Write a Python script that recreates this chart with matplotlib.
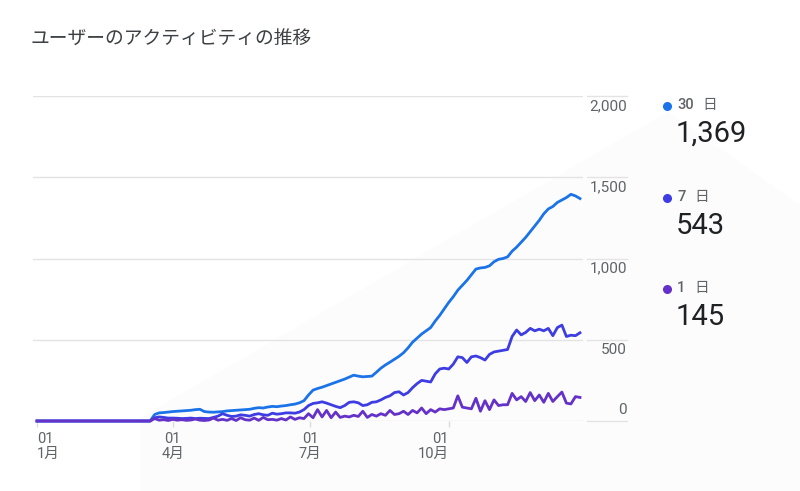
import numpy as np
import matplotlib
matplotlib.use('Agg')
import matplotlib.pyplot as plt
import matplotlib.transforms as mtransforms
from matplotlib.patches import Polygon

# sampled every 3 days, Jan 1 .. Dec 27
days = np.arange(np.datetime64('2023-01-01'), np.datetime64('2023-12-28'), 3)

users_30d = [
    0, 0, 0, 0, 0, 0, 0, 0, 0, 0,
    0, 0, 0, 0, 0, 0, 0, 0, 0, 0,
    0, 0, 0, 0, 0, 0,
    40, 50, 52, 55, 58, 60, 62, 64, 66, 70,
    72, 58, 55, 54, 56, 58, 62, 64, 66, 68,
    70, 72, 78, 82, 80, 86, 90, 88, 92, 95,
    100, 104, 112, 125, 160, 190, 200, 208, 218, 228,
    238, 248, 258, 270, 282, 276, 272, 274, 276, 300,
    325, 345, 362, 380, 398, 420, 450, 485, 510, 535,
    555, 575, 615, 650, 690, 730, 765, 805, 835, 865,
    900, 935, 942, 945, 955, 980, 995, 1000, 1010, 1045,
    1070, 1100, 1130, 1165, 1200, 1235, 1275, 1305, 1320, 1345,
    1360, 1375, 1395, 1385, 1369,
]
users_7d = [
    0, 0, 0, 0, 0, 0, 0, 0, 0, 0,
    0, 0, 0, 0, 0, 0, 0, 0, 0, 0,
    0, 0, 0, 0, 0, 0,
    20, 25, 22, 18, 18, 17, 15, 16, 18, 15,
    17, 16, 15, 22, 30, 45, 35, 28, 30, 38,
    35, 30, 40, 45, 38, 35, 48, 42, 45, 50,
    50, 48, 55, 70, 95, 108, 112, 118, 110, 100,
    90, 82, 95, 115, 118, 112, 95, 100, 115, 118,
    130, 145, 155, 175, 180, 160, 175, 205, 230, 250,
    245, 240, 290, 320, 325, 320, 350, 395, 390, 360,
    395, 400, 390, 375, 410, 425, 430, 435, 440, 520,
    560, 530, 545, 570, 555, 565, 555, 570, 525, 575,
    590, 520, 528, 525, 543,
]
users_1d = [
    0, 0, 0, 0, 0, 0, 0, 0, 0, 0,
    0, 0, 0, 0, 0, 0, 0, 0, 0, 0,
    0, 0, 0, 0, 0, 0,
    15, 5, 8, 3, 10, 5, 8, 4, 6, 12,
    5, 3, 6, 18, 5, 10, 4, 15, 3, 20,
    8, 5, 18, 4, 22, 8, 10, 5, 15, 6,
    25, 10, 20, 15, 45, 20, 70, 25, 65, 20,
    55, 22, 30, 25, 35, 28, 60, 22, 40, 30,
    45, 35, 65, 40, 45, 60, 40, 65, 50, 80,
    45, 70, 55, 75, 70, 75, 80, 155, 85, 80,
    75, 140, 60, 125, 70, 130, 95, 100, 100, 170,
    130, 150, 120, 175, 125, 160, 115, 170, 120, 150,
    178, 110, 105, 150, 145,
]

series_names = ['30 日', '7 日', '1 日']
series_colors = ['#1a73e8', '#3d3de3', '#6431c9']
series_values = [users_30d, users_7d, users_1d]

y_ticks = [0, 500, 1000, 1500, 2000]
x_tick_dates = ['2023-01-01', '2023-04-01', '2023-07-01', '2023-10-01']
x_tick_labels = ['01\n1月', '01\n4月', '01\n7月', '01\n10月']

plt.rcParams['font.family'] = ['Roboto', 'Noto Sans CJK JP', 'DejaVu Sans']

W, H = 800, 491
fig = plt.figure(figsize=(8, 4.91), dpi=100)

# faint background shape, behind everything
bg = [(140, 418), (668, 112), (800, 205), (800, 491), (140, 491)]
fig.patches.append(Polygon([(x / W, 1 - y / H) for x, y in bg], closed=True,
                           transform=fig.transFigure, facecolor='#fcfcfc',
                           edgecolor='none', zorder=-10))

ax = fig.add_axes([33 / W, 1 - 421 / H, 550 / W, 325 / H])
ax.set_facecolor('none')

for vals, col in zip(series_values, series_colors):
    ax.plot(days, vals, color=col, lw=2.0, clip_on=False, zorder=3,
            solid_joinstyle='round')

start = np.datetime64('2023-01-01', 'h')
ax.set_xlim(start - np.timedelta64(64, 'h'), start + np.timedelta64(362 * 24, 'h'))
ax.set_ylim(0, 2000)

for s in ax.spines.values():
    s.set_visible(False)

ax.set_yticks([])
trans = mtransforms.blended_transform_factory(ax.transAxes, ax.transData)
for v in y_ticks:
    ax.axhline(v, color='#e3e3e3', lw=1.0, zorder=1)
    ax.plot([1.007, 1.080], [v, v], color='#e3e3e3', lw=1.0,
            transform=trans, clip_on=False)
    dy = 11 if v == 0 else -10
    tt = mtransforms.offset_copy(trans, fig=fig, y=dy, units='dots')
    ax.text(1.080, v, f'{v:,}', transform=tt, ha='right', va='center',
            fontsize=11, color='#5f6368')

ax.set_xticks(np.array(x_tick_dates, dtype='datetime64[D]'))
ax.set_xticklabels(x_tick_labels, fontsize=10.5, color='#5f6368',
                   linespacing=1.05)
ax.tick_params(axis='x', direction='out', length=4.5, width=1,
               color='#dadce0', pad=3.5)
labels = ax.get_xticklabels()
labels[0].set_ha('left')
labels[0].set_multialignment('left')
labels[-1].set_ha('right')
labels[-1].set_multialignment('right')

fig.text(30 / W, 1 - 40 / H, 'ユーザーのアクティビティの推移', fontsize=13.5,
         color='#3c4043', ha='left', va='center')

# legend with latest values
legend_y = [105, 197, 288]
for name, col, vals, ly in zip(series_names, series_colors, series_values, legend_y):
    fig.lines.append(plt.Line2D([667 / W], [1 - (ly + 1) / H], marker='o',
                                markersize=5.5, color=col, linestyle='none',
                                transform=fig.transFigure))
    num, unit = name.split(' ')
    fig.text(677 / W, 1 - ly / H, num, fontsize=10.5, color='#5f6368',
             fontweight='medium', ha='left', va='center')
    fig.text(677 / W + (9 + 8 * len(num)) / W, 1 - ly / H, unit,
             fontsize=10.5, color='#5f6368', ha='left', va='center')
    fig.text(676 / W, 1 - (ly + 29) / H, f'{vals[-1]:,}', fontsize=21,
             color='#202124', ha='left', va='center')

fig.savefig('out.png', dpi=100)
